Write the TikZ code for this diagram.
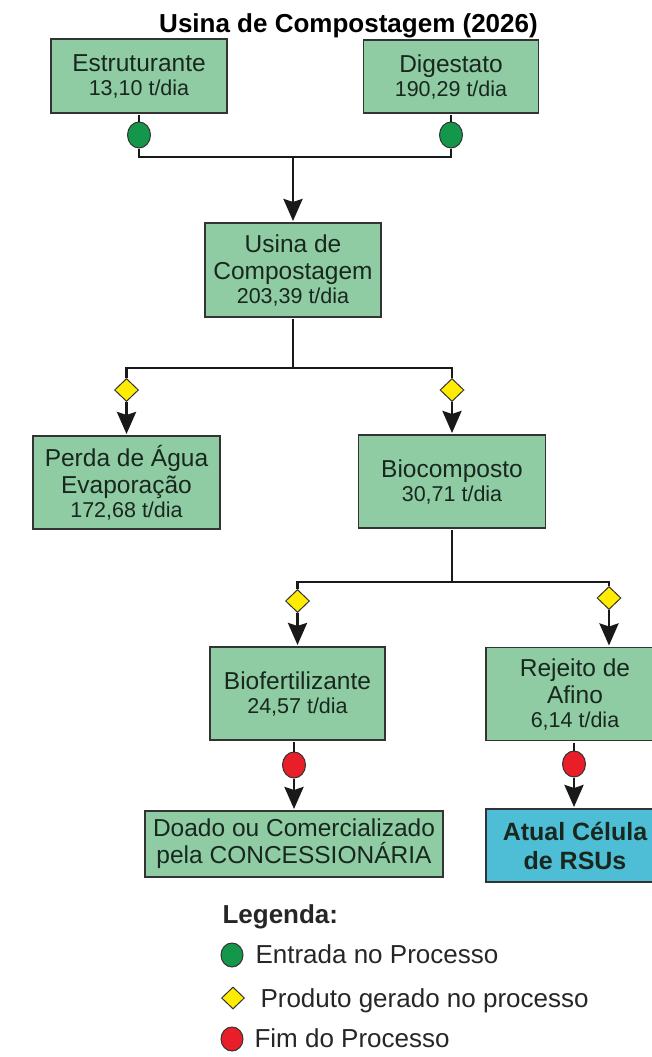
\documentclass[tikz,border=0pt]{standalone}
\usepackage{fontspec}
\setmainfont{Liberation Sans}
\usetikzlibrary{arrows.meta,shapes.geometric}

\definecolor{verdecx}{RGB}{143,204,164}
\definecolor{azulcx}{RGB}{77,190,214}
\definecolor{verdeok}{RGB}{20,150,75}
\definecolor{amarelo}{RGB}{255,236,0}
\definecolor{vermelho}{RGB}{232,30,40}
\definecolor{tinta}{RGB}{25,40,30}

\newcommand{\tdia}[1]{{\fontsize{21.5}{24}\selectfont #1 t/dia}}

\begin{document}
\begin{tikzpicture}[x=1pt,y=-1pt,
  caixa/.style={draw=black!80,line width=1.4pt,fill=verdecx,text=tinta,align=center,
    inner sep=0pt,outer sep=2pt,font=\fontsize{24.5}{27}\selectfont},
  entrada/.style={ellipse,draw=black!80,line width=1pt,fill=verdeok,minimum width=23pt,minimum height=26pt,inner sep=0pt},
  produto/.style={diamond,draw=black!80,line width=1pt,fill=amarelo,minimum width=24pt,minimum height=23pt,inner sep=0pt},
  fim/.style={ellipse,draw=black!80,line width=1pt,fill=vermelho,minimum width=23pt,minimum height=26pt,inner sep=0pt},
  fluxo/.style={draw=black!90,line width=2.8pt},
  seta/.style={fluxo,-{Stealth[length=22pt,width=19pt,inset=3pt]}},
  legtexto/.style={anchor=base west,font=\fontsize{26}{30}\selectfont,text=black!85}]
  \useasboundingbox (0,0) rectangle (652,1057);

  \node[anchor=base,font=\bfseries\fontsize{26}{30}\selectfont] (titulo) at (348.5,33) {Usina de Compostagem (2026)};

  % entradas
  \node[caixa,minimum width=176pt,minimum height=74pt] (estr) at (139,76) {Estruturante\\[-3pt]\tdia{13,10}};
  \node[caixa,minimum width=175pt,minimum height=73pt] (dig) at (451,76.5) {Digestato\\[-3pt]\tdia{190,29}};
  \node[entrada] (gE) at (139,135) {};
  \node[entrada] (gD) at (451,135) {};
  \coordinate (jE) at (139,157);
  \coordinate (jD) at (451,157);
  \coordinate (jU) at (293,157);

  \node[caixa,minimum width=176pt,minimum height=94pt] (usina) at (293,270) {Usina de\\Compostagem\\[-3pt]\tdia{203,39}};

  \draw[fluxo] (estr) -- (gE) -- (jE) -- (jD) -- (gD) -- (dig);
  \draw[seta] (jU) -- (usina);

  % primeira divisao
  \node[caixa,minimum width=187pt,minimum height=93pt] (perda) at (126.5,482.5) {Perda de Água\\Evaporação\\[-3pt]\tdia{172,68}};
  \node[caixa,minimum width=187pt,minimum height=93pt] (bioc) at (452,481.5) {Biocomposto\\[-3pt]\tdia{30,71}};
  \node[produto] (pP) at (126.5,390) {};
  \node[produto] (pB) at (452,390) {};
  \coordinate (kU) at (293,368);
  \coordinate (kP) at (126.5,368);
  \coordinate (kB) at (452,368);

  \draw[fluxo] (usina) -- (kU);
  \draw[fluxo] (pP) -- (kP) -- (kB) -- (pB);
  \draw[seta] (pP) -- (perda);
  \draw[seta] (pB) -- (bioc);

  % segunda divisao
  \node[caixa,minimum width=175pt,minimum height=93pt] (biof) at (297.5,693.5) {Biofertilizante\\[-3pt]\tdia{24,57}};
  \node[caixa,minimum width=178pt,minimum height=93pt] (rej) at (575,694) {Rejeito de\\Afino\\[-3pt]\tdia{6,14}};
  \node[produto] (pF) at (297.5,601) {};
  \node[produto] (pR) at (609,598) {};
  \coordinate (mB) at (452,582);
  \coordinate (mF) at (297.5,582);
  \coordinate (mR) at (609,582);

  \draw[fluxo] (bioc) -- (mB);
  \draw[fluxo] (pF) -- (mF) -- (mR) -- (pR);
  \draw[seta] (pF) -- (biof);
  \draw[seta] (pR) -- (pR |- rej.north);

  % destino final
  \node[caixa,minimum width=298pt,minimum height=66pt] (doado) at (294,844) {Doado ou Comercializado\\pela CONCESSIONÁRIA};
  \node[caixa,fill=azulcx,minimum width=178pt,minimum height=73pt,font=\bfseries\fontsize{25}{29}\selectfont] (atual) at (575,845.5) {Atual Célula\\de RSUs};
  \node[fim] (fF) at (294,765) {};
  \node[fim] (fR) at (574,764) {};

  \draw[fluxo] (biof.south -| fF) -- (fF);
  \draw[seta] (fF) -- (doado);
  \draw[fluxo] (rej.south -| fR) -- (fR);
  \draw[seta] (fR) -- (fR |- atual.north);

  % legenda
  \node[anchor=base west,font=\bfseries\fontsize{26}{30}\selectfont,text=black!85] (leg) at (219,923) {Legenda:};
  \node[entrada,minimum width=22pt,minimum height=24pt] (legE) at (232,955) {};
  \node[legtexto] (legEt) at (252,963) {Entrada no Processo};
  \node[produto,minimum width=23pt,minimum height=22pt] (legP) at (233,998) {};
  \node[legtexto] (legPt) at (257,1007) {Produto gerado no processo};
  \node[fim,minimum width=22pt,minimum height=24pt] (legF) at (232,1039) {};
  \node[legtexto] (legFt) at (251,1047) {Fim do Processo};
\end{tikzpicture}
\end{document}
